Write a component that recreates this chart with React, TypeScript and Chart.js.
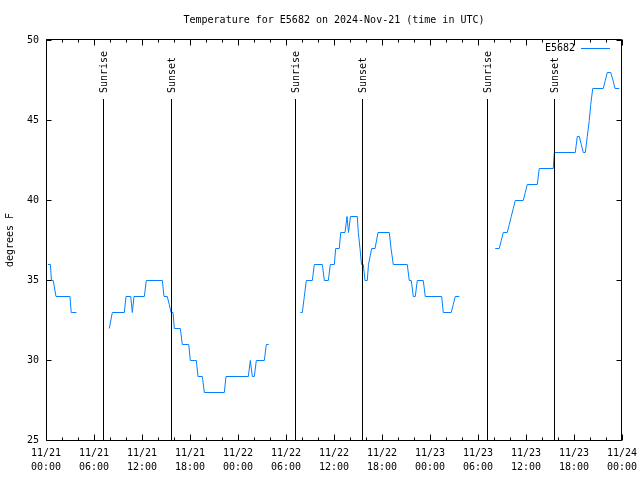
import { useEffect, useRef } from 'react';
import { Chart, registerables } from 'chart.js';

Chart.register(...registerables);

const TITLE = 'Temperature for E5682 on 2024-Nov-21 (time in UTC)';
const SERIES_NAME = 'E5682';
const Y_TITLE = 'degrees F';
const FONT = '"DejaVu Sans Mono", monospace';
const LINE_COLOR = 'rgb(0,128,255)';

// hours since 2024-11-21 00:00 UTC; null temperature = gap in the record
const hours = [
  0.25, 0.55, 0.68, 0.9, 1.25, 3.0, 3.15, 3.8,
  5.5,
  7.91, 8.29, 9.79, 10.0, 10.59, 10.79, 11.0, 12.29, 12.54, 14.54, 14.75, 15.16, 15.41, 15.63, 15.88,
  16.04, 16.79, 17.04, 17.84, 18.04, 18.79, 19.0, 19.54, 19.79, 22.29, 22.5, 25.29, 25.54, 25.79,
  26.04, 26.29, 27.29, 27.54, 27.84,
  29.8,
  31.79, 32.04, 32.29, 32.54, 33.29, 33.54, 34.54, 34.79, 35.29, 35.54, 36.04, 36.21, 36.66, 36.84,
  37.38, 37.63, 37.81, 38.06, 38.91, 39.04, 39.25, 39.44, 39.66, 39.88, 40.16, 40.31, 40.71, 41.13,
  41.5, 42.91, 43.13, 43.41, 45.16, 45.41, 45.66, 45.91, 46.16, 46.41, 47.16, 47.41, 49.46, 49.66,
  50.66, 50.91, 51.16, 51.66,
  53.9,
  56.16, 56.66, 56.91, 57.16, 57.66, 57.91, 58.16, 58.41, 58.66, 59.66, 59.91, 60.16, 61.41, 61.66,
  63.41, 63.54, 66.16, 66.41, 66.66, 66.91, 67.16, 67.41, 67.66, 67.91, 68.09, 68.34, 69.66, 69.91,
  70.16, 70.59, 70.88, 71.13, 71.66,
];

const tempsF: (number | null)[] = [
  36, 36, 35, 35, 34, 34, 33, 33,
  null,
  32, 33, 33, 34, 34, 33, 34, 34, 35, 35, 34, 34, 33.5, 33, 33,
  32, 32, 31, 31, 30, 30, 29, 29, 28, 28, 29, 29, 30, 29,
  29, 30, 30, 31, 31,
  null,
  33, 33, 34, 35, 35, 36, 36, 35, 35, 36, 36, 37, 37, 38,
  38, 39, 38, 39, 39, 38, 37, 36, 36, 35, 35, 36, 37, 37,
  38, 38, 37, 36, 36, 35, 35, 34, 34, 35, 35, 34, 34, 33,
  33, 33.5, 34, 34,
  null,
  37, 37, 37.5, 38, 38, 38.5, 39, 39.5, 40, 40, 40.5, 41, 41, 42,
  42, 43, 43, 44, 44, 43.5, 43, 43, 44, 45, 46, 47, 47, 47.5,
  48, 48, 47.5, 47, 47,
];

const xTickDates = ['11/21', '11/21', '11/21', '11/21', '11/22', '11/22', '11/22', '11/22', '11/23', '11/23', '11/23', '11/23', '11/24'];
const xTickTimes = ['00:00', '06:00', '12:00', '18:00', '00:00', '06:00', '12:00', '18:00', '00:00', '06:00', '12:00', '18:00', '00:00'];

const sunEventHours = [7.16, 15.66, 31.16, 39.54, 55.16, 63.5];
const sunEventLabels = ['Sunrise', 'Sunset', 'Sunrise', 'Sunset', 'Sunrise', 'Sunset'];

const gnuplotDecor = {
  id: 'gnuplotDecor',
  beforeDatasetsDraw(chart: any) {
    chart.ctx.save();
    chart.ctx.translate(0, 0.5);
  },
  afterDatasetsDraw(chart: any) {
    chart.ctx.restore();
    const { ctx, chartArea: a, scales } = chart;
    const x = scales.x;
    const y = scales.y;
    const L = a.left + 0.5;
    const R = a.right - 0.5;
    const T = a.top - 0.5;
    const B = a.bottom + 0.5;
    ctx.save();
    ctx.strokeStyle = '#000';
    ctx.lineWidth = 1;

    // sunrise / sunset markers
    ctx.fillStyle = '#000';
    ctx.font = `10px ${FONT}`;
    sunEventHours.forEach((h, i) => {
      const px = Math.round(x.getPixelForValue(h)) + 0.5;
      ctx.beginPath();
      ctx.moveTo(px, a.top + 59);
      ctx.lineTo(px, B);
      ctx.stroke();
      ctx.save();
      ctx.translate(px + 1, a.top + 53);
      ctx.rotate(-Math.PI / 2);
      ctx.textAlign = 'left';
      ctx.textBaseline = 'middle';
      ctx.fillText(sunEventLabels[i], 0, 0);
      ctx.restore();
    });

    // frame
    ctx.beginPath();
    ctx.rect(L, T, R - L, B - T);
    ctx.stroke();

    // x ticks (inward, mirrored)
    ctx.beginPath();
    for (let h = 0; h <= 72; h += 2) {
      const px = Math.round(x.getPixelForValue(h)) + 0.5;
      const len = h % 6 === 0 ? 6 : 3;
      ctx.moveTo(px, B);
      ctx.lineTo(px, B - len);
      ctx.moveTo(px, T);
      ctx.lineTo(px, T + len);
    }
    // y ticks
    for (let v = 25; v <= 50; v += 5) {
      const py = Math.round(y.getPixelForValue(v)) + 0.5;
      ctx.moveTo(L, py);
      ctx.lineTo(L + 5, py);
      ctx.moveTo(R, py);
      ctx.lineTo(R - 5, py);
    }
    ctx.stroke();

    // legend
    ctx.fillStyle = '#000';
    ctx.textAlign = 'right';
    ctx.textBaseline = 'middle';
    ctx.fillText(SERIES_NAME, 575, 48);
    ctx.strokeStyle = LINE_COLOR;
    ctx.beginPath();
    ctx.moveTo(581, 48.5);
    ctx.lineTo(610, 48.5);
    ctx.stroke();
    ctx.restore();
  },
  afterDraw(chart: any) {
    const { ctx, chartArea: a } = chart;
    ctx.save();
    ctx.fillStyle = '#000';
    ctx.font = `10px ${FONT}`;
    ctx.textAlign = 'center';
    ctx.textBaseline = 'middle';
    ctx.fillText(TITLE, (a.left + a.right) / 2, 20);
    ctx.translate(10, (a.top + a.bottom) / 2);
    ctx.rotate(-Math.PI / 2);
    ctx.fillText(Y_TITLE, 0, 0);
    ctx.restore();
  },
};

export default function App() {
  const ref = useRef<HTMLCanvasElement | null>(null);
  useEffect(() => {
    document.body.style.margin = '0';
    const canvas = ref.current;
    if (!canvas) return;
    const chart = new Chart(canvas, {
      type: 'line',
      data: {
        datasets: [
          {
            label: SERIES_NAME,
            data: hours.map((h, i) => ({ x: h, y: tempsF[i] })) as any,
            borderColor: LINE_COLOR,
            borderWidth: 1,
            pointRadius: 0,
            tension: 0,
            spanGaps: false,
            fill: false,
          },
        ],
      },
      options: {
        animation: false,
        responsive: false,
        maintainAspectRatio: false,
        devicePixelRatio: 1,
        layout: { padding: { top: 40, right: 18, left: 0, bottom: 0 } },
        plugins: {
          legend: { display: false },
          tooltip: { enabled: false },
          title: { display: false },
        },
        scales: {
          x: {
            type: 'linear',
            min: 0,
            max: 72,
            grid: { display: false, drawTicks: false },
            border: { display: false },
            ticks: {
              stepSize: 6,
              autoSkip: false,
              maxRotation: 0,
              minRotation: 0,
              padding: 6,
              color: '#000',
              font: { family: FONT, size: 10, lineHeight: '14px' },
              callback: (v: any) => {
                const i = Math.round(Number(v) / 6);
                return [xTickDates[i], xTickTimes[i]];
              },
            },
            afterFit: (s: any) => {
              s.height = 40;
              s.paddingLeft = 0;
              s.paddingRight = 0;
            },
          },
          y: {
            min: 25,
            max: 50,
            grid: { display: false, drawTicks: false },
            border: { display: false },
            ticks: {
              stepSize: 5,
              padding: 7,
              color: '#000',
              font: { family: FONT, size: 10 },
            },
            afterFit: (s: any) => {
              s.width = 46;
              s.paddingTop = 0;
              s.paddingBottom = 0;
            },
          },
        },
      },
      plugins: [gnuplotDecor],
    });
    return () => chart.destroy();
  }, []);
  return <canvas ref={ref} width={640} height={480} style={{ display: 'block' }} />;
}
